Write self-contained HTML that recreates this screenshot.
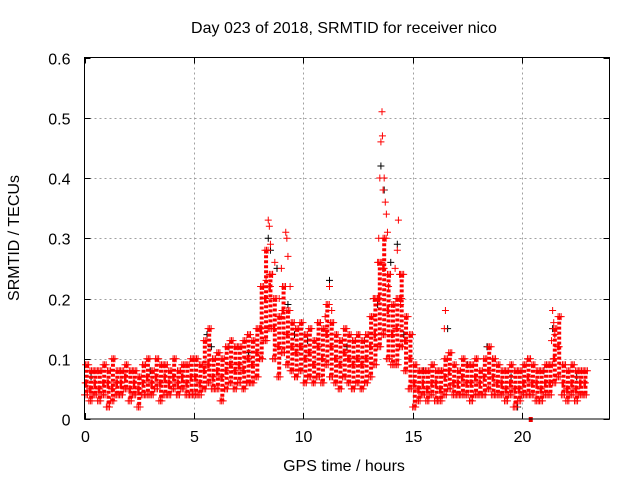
<!DOCTYPE html>
<html><head><meta charset="utf-8"><style>
body{margin:0;background:#fff}
svg text{font-family:"Liberation Sans",sans-serif;font-size:16px;fill:#000}
</style></head><body>
<svg id="chart" width="640" height="480" viewBox="0 0 640 480" xmlns="http://www.w3.org/2000/svg">
<text x="344" y="33" text-anchor="middle">Day 023 of 2018, SRMTID for receiver nico</text>
<text x="344" y="471" text-anchor="middle">GPS time / hours</text>
<text x="19" y="238" text-anchor="middle" transform="rotate(-90 19 238)">SRMTID / TECUs</text>
<g id="grid"></g>
<g id="ticks"></g>
<g id="marks"></g>
<rect x="84.5" y="57.5" width="525" height="361.5" fill="none" stroke="#000" stroke-width="1"/>
</svg>
<script>
const xTicks=[0,5,10,15,20];
const yTicks=[0,0.1,0.2,0.3,0.4,0.5,0.6];
const yTickLabels=["0","0.1","0.2","0.3","0.4","0.5","0.6"];
const timeStep=0.2;
const midVals=[0.06,0.05,0.06,0.05,0.06,0.06,0.05,0.06,0.06,0.07,0.05,0.06,0.05,0.06,0.07,0.06,0.07,0.06,0.07,0.06,0.07,0.06,0.07,0.06,0.07,
0.07,0.06,0.08,0.09,0.07,0.08,0.07,0.08,0.09,0.08,0.09,0.08,0.10,0.09,0.11,
0.15,0.20,0.22,0.15,0.12,0.18,0.14,0.12,0.11,0.12,
0.10,0.11,0.09,0.12,0.10,0.14,0.12,0.10,0.09,0.11,0.10,0.09,0.10,0.09,0.10,
0.12,0.14,0.20,0.25,0.18,0.14,0.15,0.20,0.13,0.10,
0.06,0.05,0.06,0.05,0.06,0.06,0.05,0.07,0.08,0.06,0.06,0.07,0.06,0.06,0.07,0.06,0.07,0.08,0.07,0.06,0.06,0.05,0.06,0.05,0.05,0.06,0.07,0.06,0.06,0.05,0.06,0.06,0.10,0.12,0.06,0.05,0.06,0.05,0.06,0.06];
const loVals=[0.04,0.03,0.04,0.03,0.04,0.02,0.03,0.04,0.04,0.05,0.03,0.04,0.02,0.04,0.04,0.04,0.05,0.03,0.04,0.04,0.05,0.04,0.05,0.04,0.04,
0.04,0.04,0.05,0.06,0.05,0.05,0.03,0.05,0.06,0.05,0.06,0.05,0.06,0.06,0.07,
0.10,0.13,0.15,0.10,0.07,0.11,0.09,0.08,0.07,0.08,
0.06,0.07,0.06,0.07,0.06,0.09,0.07,0.06,0.05,0.07,0.06,0.05,0.06,0.05,0.06,
0.07,0.09,0.12,0.14,0.10,0.09,0.09,0.12,0.08,0.05,
0.02,0.03,0.04,0.03,0.04,0.03,0.03,0.04,0.05,0.04,0.04,0.04,0.04,0.03,0.04,0.04,0.04,0.05,0.04,0.04,0.04,0.03,0.04,0.02,0.03,0.04,0.04,0.04,0.03,0.03,0.04,0.04,0.06,0.07,0.04,0.03,0.04,0.03,0.04,0.04];
const hiVals=[0.09,0.08,0.08,0.08,0.09,0.08,0.10,0.08,0.08,0.09,0.08,0.08,0.07,0.09,0.10,0.08,0.10,0.09,0.09,0.08,0.10,0.08,0.09,0.09,0.10,
0.10,0.09,0.13,0.15,0.10,0.11,0.10,0.12,0.13,0.12,0.12,0.13,0.14,0.13,0.15,
0.22,0.28,0.24,0.20,0.17,0.22,0.18,0.16,0.15,0.16,
0.14,0.15,0.13,0.16,0.15,0.19,0.16,0.14,0.13,0.15,0.14,0.13,0.14,0.13,0.14,
0.17,0.20,0.26,0.30,0.24,0.19,0.20,0.24,0.17,0.14,
0.09,0.08,0.08,0.08,0.09,0.08,0.08,0.10,0.11,0.09,0.08,0.10,0.09,0.09,0.10,0.08,0.10,0.12,0.10,0.09,0.08,0.08,0.09,0.08,0.08,0.09,0.10,0.09,0.08,0.08,0.09,0.09,0.15,0.17,0.09,0.08,0.09,0.08,0.08,0.08];
const spikeT=[8.3,8.4,8.45,8.5,8.6,8.7,8.9,9.0,9.2,9.25,9.3,9.4,11.0,11.2,11.3,13.2,13.4,13.45,13.5,13.55,13.6,13.62,13.65,13.7,13.75,13.8,13.85,13.9,14.2,14.3,14.35,14.4,14.45,16.45,16.5,21.35,21.4,21.45,21.5];
const spikeV=[0.23,0.33,0.32,0.29,0.24,0.26,0.20,0.25,0.31,0.30,0.27,0.22,0.17,0.22,0.18,0.20,0.26,0.30,0.40,0.46,0.51,0.47,0.38,0.40,0.36,0.34,0.31,0.22,0.25,0.28,0.33,0.24,0.19,0.15,0.18,0.13,0.18,0.16,0.14];
const blackT=[0.3,1.5,3.0,4.5,5.6,5.8,6.6,7.5,8.4,8.5,8.8,9.3,9.6,10.2,11.2,12.0,12.8,13.4,13.55,13.7,14.0,14.3,14.6,15.5,16.6,17.5,18.4,19.5,19.8,21.0,21.4,22.5];
const blackV=[0.07,0.06,0.08,0.07,0.14,0.12,0.12,0.11,0.30,0.28,0.25,0.19,0.14,0.13,0.23,0.12,0.13,0.19,0.42,0.38,0.26,0.29,0.14,0.08,0.15,0.09,0.12,0.07,0.02,0.08,0.15,0.07];
const deadT=[20.4];
const deadV=[0];

const X0=84.5,X1=609.5,Y0=419,Y1=57.5,XMAX=24,YMAX=0.6;
const xs=v=>X0+(v/XMAX)*(X1-X0);
const ys=v=>Y0-(v/YMAX)*(Y0-Y1);
const NS="http://www.w3.org/2000/svg";
const grid=document.getElementById('grid'),ticks=document.getElementById('ticks'),marks=document.getElementById('marks');
function ln(p,x1,y1,x2,y2,st,dash){const l=document.createElementNS(NS,'line');l.setAttribute('x1',x1);l.setAttribute('y1',y1);l.setAttribute('x2',x2);l.setAttribute('y2',y2);l.setAttribute('stroke',st);if(dash)l.setAttribute('stroke-dasharray',dash);p.appendChild(l);return l;}
xTicks.forEach(t=>{const x=Math.round(xs(t))+0.5;
 if(t>0){const g=ln(grid,x,Y1,x,Y0,'#a0a0a0','2,3');}
 ln(ticks,x,Y0,x,Y0-6,'#000');ln(ticks,x,Y1,x,Y1+6,'#000');
 const tx=document.createElementNS(NS,'text');tx.setAttribute('x',x);tx.setAttribute('y',Y0+23);tx.setAttribute('text-anchor','middle');tx.textContent=t;
 
 
 ticks.appendChild(tx);});
yTicks.forEach((t,i)=>{const y=Math.round(ys(t))+0.5;
 if(t>0&&t<YMAX){const g=ln(grid,X0,y,X1,y,'#a0a0a0','2,3');}
 ln(ticks,X0,y,X0+6,y,'#000');ln(ticks,X1,y,X1-6,y,'#000');
 const tx=document.createElementNS(NS,'text');tx.setAttribute('x',X0-14);tx.setAttribute('y',y+6);tx.setAttribute('text-anchor','end');tx.textContent=yTickLabels[i];
 
 
 ticks.appendChild(tx);});
function plus(t,v,col,name){const x=xs(t),y=ys(v);const p=document.createElementNS(NS,'path');
 p.setAttribute('d',`M${x-3.5},${y}H${x+3.5}M${x},${y-3.5}V${y+3.5}`);p.setAttribute('stroke',col);p.setAttribute('fill','none');
 
 
 marks.appendChild(p);}
blackT.forEach((t,i)=>plus(t,blackV[i],'#000','black-point'));
midVals.forEach((v,i)=>{const t=i*timeStep;
 const b=ln(marks,xs(t+0.1),ys(hiVals[i]),xs(t+0.1),ys(loVals[i]),'#f00');
 b.setAttribute('stroke-width','4');
 b.setAttribute('stroke-dasharray','3,2');
 
 
 [0,0.07,0.14].forEach(o=>{plus(t+o,loVals[i],'#f00','red-point');plus(t+0.1-o/2,v,'#f00','red-point');plus(t+0.05+o,hiVals[i],'#f00','red-point');});});
spikeT.forEach((t,i)=>plus(t,spikeV[i],'#f00','red-spike-point'));
deadT.forEach((t,i)=>{const r=document.createElementNS(NS,'rect');r.setAttribute('x',xs(t)-2);r.setAttribute('y',ys(deadV[i])-2);r.setAttribute('width',4);r.setAttribute('height',5);r.setAttribute('fill','#e00');
 
 
 marks.appendChild(r);});
</script>
</body></html>
